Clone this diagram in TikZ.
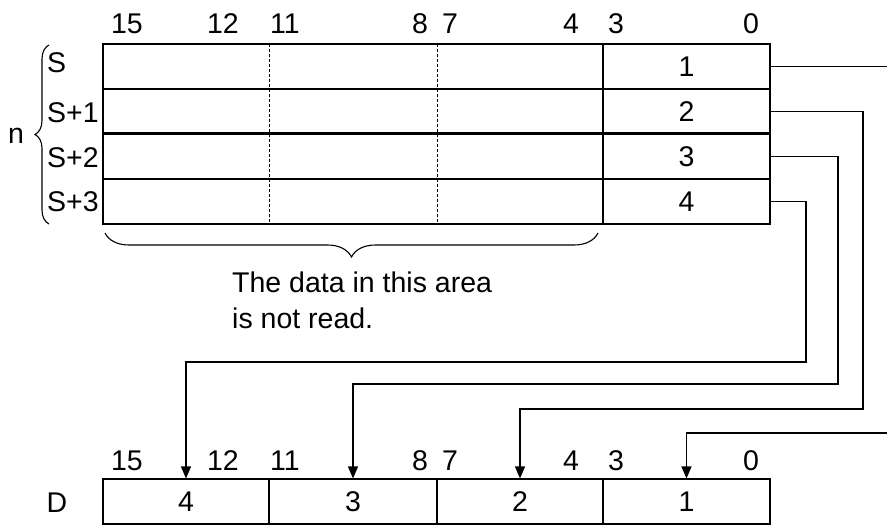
\documentclass[tikz,border=0pt]{standalone}
\usepackage{fontspec}
\setmainfont{Liberation Sans}
\usetikzlibrary{arrows.meta,decorations.pathreplacing}

\begin{document}
\begin{tikzpicture}[x=1pt, y=-1pt,
  lbl/.style={font=\fontsize{28.5}{36}\selectfont, inner sep=0pt},
  cell/.style={draw, line width=1.6pt, inner sep=0pt, minimum height=45pt},
  dcell/.style={draw, line width=1.1pt, inner sep=0pt, minimum height=45pt},
  arr/.style={line width=1.2pt, -{Triangle[width=10pt,length=12pt]}}]
  \useasboundingbox (0,0) rectangle (887,525);

  % Source words S .. S+3
  \foreach \i/\y/\t/\s in {1/66.5/S/72, 2/111.5/S+1/122, 3/156.5/S+2/167, 4/201.5/S+3/211} {
    \node[cell, minimum width=500pt] (r\i) at (353,\y) {};
    \node[cell, lbl, minimum width=167pt] (v\i) at (686.5,\y) {\i};
    \node[lbl, anchor=base west] (s\i) at (47,\s) {\t};
  }
  \draw[line width=2.6pt] (r3.north west) -- (v3.north east);

  % Dashed nibble borders
  \draw[line width=1pt, dash pattern=on 3pt off 2pt] (269,44) -- (269,224);
  \draw[line width=1pt, dash pattern=on 3pt off 2pt] (437,44) -- (437,224);

  % Bit numbers
  \foreach \b/\x in {15/127, 12/223, 11/285, 8/420, 7/450, 4/571, 3/616, 0/751} {
    \node[lbl, anchor=base] (tb\b) at (\x,33) {\b};
    \node[lbl, anchor=base] (bb\b) at (\x,470) {\b};
  }

  % Braces
  \draw[line width=1.1pt, decorate, decoration={brace, amplitude=14pt}] (49,224) -- (49,45);
  \node[lbl, anchor=base] (n) at (16,143) {n};
  \draw[line width=1.1pt, decorate, decoration={brace, amplitude=24pt}] (598,233) -- (105,233);
  \node[lbl, anchor=north west, align=left] (note) at (232,272) {The data in this area\\is not read.};

  % Destination word D
  \foreach \v/\x/\w in {4/186/166pt, 3/353/168pt, 2/520/166pt, 1/686.5/167pt}
    \node[dcell, lbl, minimum width=\w] (d\v) at (\x,501.5) {\v};
  \node[lbl, anchor=base] (D) at (57,512) {D};

  % Wires
  \coordinate (k1) at (889,433);
  \coordinate (k2) at (863,409);
  \coordinate (k3) at (838,384);
  \coordinate (k4) at (806,362);
  \foreach \i in {1,...,4}
    \draw[arr] (v\i.east) -| (k\i) -| (d\i.north);
\end{tikzpicture}
\end{document}
